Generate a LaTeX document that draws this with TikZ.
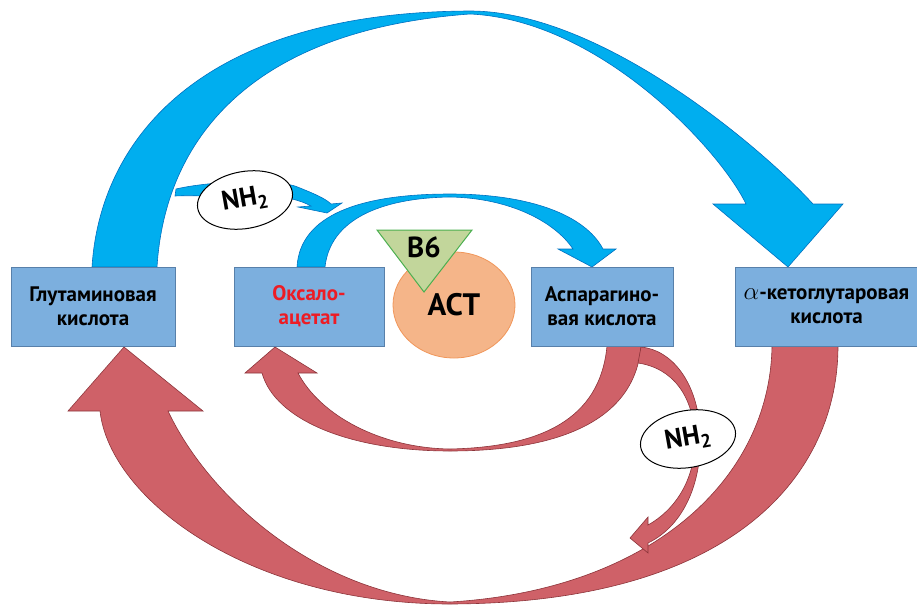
\documentclass[tikz,border=0pt]{standalone}
\usepackage{fontspec}
\setmainfont{PT Sans}
\usetikzlibrary{positioning}
\usetikzlibrary{shapes}
\definecolor{boxblue}{RGB}{124,175,222}
\definecolor{boxline}{RGB}{88,128,170}
\definecolor{arrblue}{RGB}{0,174,239}
\definecolor{arrblueline}{RGB}{0,112,192}
\definecolor{arrred}{RGB}{207,97,104}
\definecolor{arrredline}{RGB}{140,52,58}
\definecolor{astfill}{RGB}{245,181,137}
\definecolor{astline}{RGB}{240,150,90}
\definecolor{bsixfill}{RGB}{194,214,155}
\definecolor{bsixline}{RGB}{76,175,80}
\definecolor{oxred}{RGB}{237,28,36}
\tikzstyle{acid} = [rectangle,fill=boxblue,draw=boxline,line width=1pt,minimum height=79pt,inner sep=0pt,align=center,font=\fontsize{21}{24}\selectfont\bfseries]
\tikzstyle{amino} = [ellipse,fill=white,draw=black,line width=1pt,minimum width=96pt,minimum height=57pt,inner sep=0pt,rotate=10,font=\fontsize{27}{28}\selectfont\bfseries]
\tikzstyle{bluearrow} = [fill=arrblue,draw=arrblueline,line width=0.6pt]
\tikzstyle{redarrow} = [fill=arrred,draw=arrredline,line width=0.6pt]

\begin{document}
\begin{tikzpicture}[x=1pt,y=-1pt]
  \useasboundingbox (0,0) rectangle (917,605);

  % blue arrows
  \path[bluearrow] (92,267) .. controls (100,140) and (200,12) .. (470,11) .. controls (600,11) and (760,146) .. (813,204) -- (843,204) -- (788,267) -- (713,204) -- (746,204) .. controls (720,150) and (600,20) .. (470,14) .. controls (250,30) and (165,140) .. (157,267) -- cycle;
  \path[bluearrow] (176,189) .. controls (210,181) and (280,178) .. (300,188) .. controls (315,194) and (326,199) .. (331,204) -- (342,203) -- (327,213) -- (298,207) -- (311,206) .. controls (300,200) and (285,196) .. (265,197) .. controls (225,197) and (195,195) .. (175,196) -- cycle;
  \path[bluearrow] (297,267) .. controls (300,215) and (360,194) .. (450,194) .. controls (530,194) and (585,215) .. (603,249) -- (616,249) -- (592,267) -- (558,249) -- (573,249) .. controls (555,222) and (510,198) .. (450,197) .. controls (380,198) and (330,220) .. (325,267) -- cycle;

  % red arrows
  \path[redarrow] (838,346) .. controls (838,470) and (740,603) .. (450,604) .. controls (250,604) and (110,500) .. (100,411) -- (68,411) -- (124,347) -- (203,411) -- (168,411) .. controls (210,500) and (320,595) .. (450,602) .. controls (650,590) and (770,480) .. (772,346) -- cycle;
  \path[redarrow] (641,346) .. controls (635,420) and (560,451) .. (450,451) .. controls (350,451) and (275,420) .. (262,373) -- (245,373) -- (275,347) -- (317,373) -- (298,373) .. controls (320,415) and (380,448) .. (450,449) .. controls (540,447) and (600,420) .. (607,346) -- cycle;
  \path[redarrow] (641,347) .. controls (672,350) and (697,382) .. (700,430) .. controls (703,480) and (685,525) .. (648,543) -- (648,553) -- (630,538) -- (648,517) -- (648,525) .. controls (675,510) and (695,480) .. (695,440) .. controls (694,395) and (672,368) .. (638,363) -- cycle;

  \node [acid,minimum width=164pt] (glu) at (93,306.5) {Глутаминовая\\кислота};
  \node [acid,minimum width=150pt,text=oxred,right=58pt of glu] (oxa) {Оксало-\\ацетат};
  \node [acid,minimum width=142pt,right=146pt of oxa] (asp) {Аспарагино-\\вая кислота};
  \node [acid,minimum width=183pt,right=61pt of asp] (akg) {{\fontsize{27}{24}\selectfont$\alpha$}-кетоглутаровая\\кислота};

  \node [ellipse,fill=astfill,draw=astline,line width=0.8pt,minimum width=122pt,minimum height=106pt,font=\fontsize{31}{32}\selectfont\bfseries] (ast) at (454,305) {АСТ};
  \path[fill=bsixfill,draw=bsixline,line width=1pt] (377,230) -- (472,230) -- (424,292) -- cycle;
  \node [font=\fontsize{29}{30}\selectfont\bfseries] (b6) at (424,247) {B6};

  \node [amino] (nhb) at (245,200) {NH\textsubscript{2}};
  \node [amino] (nhr) at (688,439) {NH\textsubscript{2}};
\end{tikzpicture}
\end{document}
